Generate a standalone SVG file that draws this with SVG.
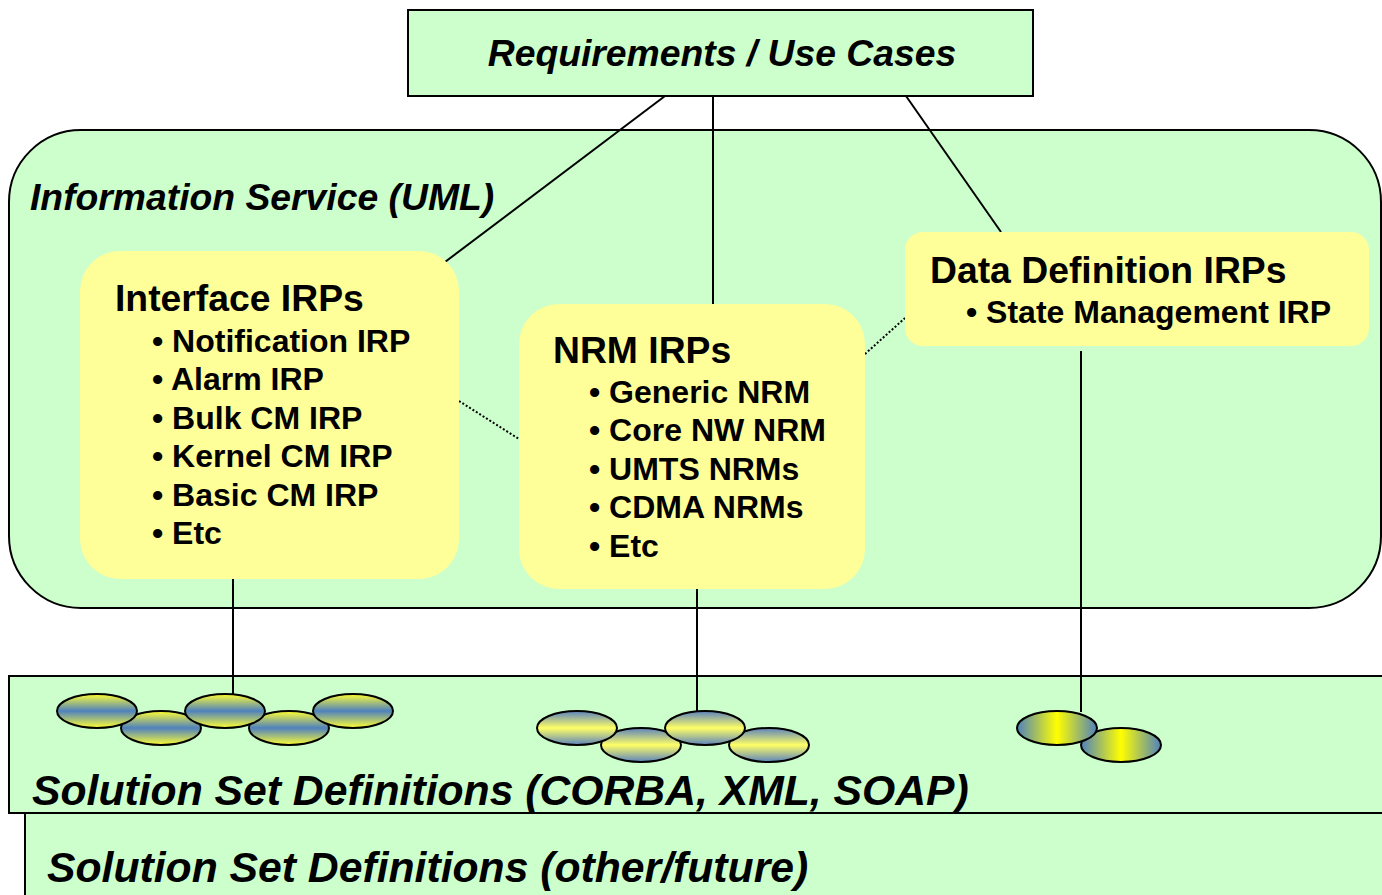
<svg xmlns="http://www.w3.org/2000/svg" width="1382" height="895" viewBox="0 0 1382 895">
<style>
text{font-family:"Liberation Sans",Arial,sans-serif;font-weight:bold;fill:#000}
.it{font-style:italic}
.hd{font-size:37.3px}
.bl{font-size:32px}
.ss{font-size:42.7px}
.green{fill:#CCFFCC;stroke:#000;stroke-width:2}
.yel{fill:#FFFF99;stroke:none}
.ln{stroke:#000;stroke-width:2;fill:none}
.dot{stroke:#000;stroke-width:2;stroke-dasharray:2 2;fill:none}
.el{stroke:#000;stroke-width:2}
</style>
<defs>
<linearGradient id="gYBY" x1="0" y1="0" x2="0" y2="1">
<stop offset="0" stop-color="#FFFF33"/><stop offset="0.5" stop-color="#4F81BD"/><stop offset="1" stop-color="#FFFF33"/>
</linearGradient>
<linearGradient id="gBYB" x1="0" y1="0" x2="0" y2="1">
<stop offset="0" stop-color="#5B82BE"/><stop offset="0.5" stop-color="#FFFF66"/><stop offset="1" stop-color="#5B82BE"/>
</linearGradient>
<linearGradient id="gHBYB" x1="0" y1="0" x2="1" y2="0">
<stop offset="0" stop-color="#4F81BD"/><stop offset="0.5" stop-color="#FFFF00"/><stop offset="1" stop-color="#4F81BD"/>
</linearGradient>
</defs>

<g id="info-service">
<rect class="green" x="9" y="130" width="1372" height="478" rx="72" ry="72"/>
<text class="it hd" x="30" y="210">Information Service (UML)</text>
</g>

<g id="solution-other">
<rect class="green" x="25" y="813" width="1370" height="100"/>
<text class="it ss" x="47" y="882">Solution Set Definitions (other/future)</text>
</g>

<g id="solution-corba">
<rect class="green" x="9" y="676" width="1386" height="137"/>
<text class="it ss" x="32" y="805">Solution Set Definitions (CORBA, XML, SOAP)</text>
</g>

<g id="requirements">
<rect class="green" x="408" y="10" width="625" height="86"/>
<text class="it hd" x="722" y="66" text-anchor="middle">Requirements / Use Cases</text>
</g>

<g id="connectors">
<line class="ln" x1="665" y1="96" x2="441" y2="265"/>
<line class="ln" x1="713" y1="96" x2="713" y2="304"/>
<line class="ln" x1="906" y1="96" x2="1001" y2="232"/>
<line class="dot" x1="459" y1="401" x2="519" y2="439"/>
<line class="dot" x1="865" y1="354" x2="905" y2="318"/>
<line class="ln" x1="233" y1="579" x2="233" y2="696"/>
<line class="ln" x1="697" y1="589" x2="697" y2="712"/>
<line class="ln" x1="1081" y1="351" x2="1081" y2="712"/>
</g>

<g id="interface-irps">
<rect class="yel" x="80" y="251" width="379" height="328" rx="40" ry="40"/>
<text class="hd" x="115" y="311">Interface IRPs</text>
<text class="bl" x="152" y="352">• Notification IRP</text>
<text class="bl" x="152" y="390">• Alarm IRP</text>
<text class="bl" x="152" y="429">• Bulk CM IRP</text>
<text class="bl" x="152" y="467">• Kernel CM IRP</text>
<text class="bl" x="152" y="506">• Basic CM IRP</text>
<text class="bl" x="152" y="544">• Etc</text>
</g>

<g id="nrm-irps">
<rect class="yel" x="519" y="304" width="346" height="285" rx="40" ry="40"/>
<text class="hd" x="553" y="363">NRM IRPs</text>
<text class="bl" x="589" y="403">• Generic NRM</text>
<text class="bl" x="589" y="441">• Core NW NRM</text>
<text class="bl" x="589" y="480">• UMTS NRMs</text>
<text class="bl" x="589" y="518">• CDMA NRMs</text>
<text class="bl" x="589" y="557">• Etc</text>
</g>

<g id="data-definition-irps">
<rect class="yel" x="905" y="232" width="464" height="114" rx="18" ry="18"/>
<text class="hd" x="930" y="283">Data Definition IRPs</text>
<text class="bl" x="966" y="323">• State Management IRP</text>
</g>

<g id="ss-interface">
<ellipse class="el" fill="url(#gYBY)" cx="161" cy="728" rx="40" ry="17"/>
<ellipse class="el" fill="url(#gYBY)" cx="289" cy="728" rx="40" ry="17"/>
<ellipse class="el" fill="url(#gYBY)" cx="97" cy="711" rx="40" ry="17"/>
<ellipse class="el" fill="url(#gYBY)" cx="225" cy="711" rx="40" ry="17"/>
<ellipse class="el" fill="url(#gYBY)" cx="353" cy="711" rx="40" ry="17"/>
</g>

<g id="ss-nrm">
<ellipse class="el" fill="url(#gBYB)" cx="641" cy="745" rx="40" ry="17"/>
<ellipse class="el" fill="url(#gBYB)" cx="769" cy="745" rx="40" ry="17"/>
<ellipse class="el" fill="url(#gBYB)" cx="577" cy="728" rx="40" ry="17"/>
<ellipse class="el" fill="url(#gBYB)" cx="705" cy="728" rx="40" ry="17"/>
</g>

<g id="ss-data">
<ellipse class="el" fill="url(#gHBYB)" cx="1121" cy="745" rx="40" ry="17"/>
<ellipse class="el" fill="url(#gHBYB)" cx="1057" cy="728" rx="40" ry="17"/>
</g>
</svg>
